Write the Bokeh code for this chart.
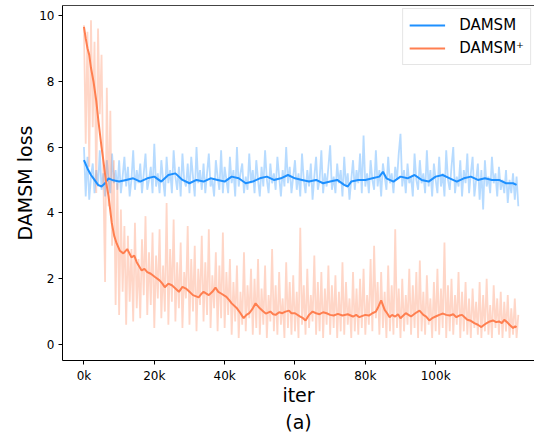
from bokeh.plotting import figure
from bokeh.models import (FixedTicker, LinearAxis, Legend, LegendItem, Title)
from bokeh.embed import file_html
from bokeh.resources import INLINE

# ---------------- data (iterations in thousands) ----------------
# raw losses are logged every 0.5k iterations
damsm_raw_y = [
    6.0, 4.5, 5.7, 4.4, 5.1, 5.5, 4.6, 5.3, 4.8, 5.9, 4.7, 5.2, 4.5, 5.6, 5.0, 4.6, 5.8, 4.9, 5.3, 4.7,
    5.6, 4.6, 5.1, 5.7, 4.8, 5.4, 4.5, 5.0, 5.9, 4.7, 5.3, 4.9, 5.5, 4.6, 5.2, 5.8, 4.7, 5.0, 5.4, 4.6,
    6.1, 4.8, 5.2, 4.6, 5.6, 5.0, 4.5, 5.7, 4.9, 5.3, 4.6, 5.9, 5.1, 4.7, 5.4, 4.5, 5.8, 5.0, 4.8, 5.5,
    4.6, 5.7, 5.1, 4.5, 6.0, 4.9, 5.3, 4.7, 5.5, 4.6, 5.2, 5.8, 4.8, 5.0, 4.5, 5.6, 5.1, 4.7, 5.9, 4.6,
    5.4, 5.0, 4.6, 5.7, 4.9, 5.3, 4.5, 6.0, 4.8, 5.2, 5.5, 4.6, 5.1, 4.7, 5.8, 4.9, 5.3, 4.6, 5.6, 5.0,
    4.5, 5.4, 4.8, 5.9, 5.0, 4.6, 5.5, 4.9, 5.2, 4.7, 5.7, 5.1, 4.5, 5.3, 4.8, 6.0, 4.9, 5.4, 4.6, 5.1,
    5.6, 4.7, 5.2, 4.5, 5.8, 5.0, 4.6, 5.3, 4.8, 5.5, 4.4, 5.1, 5.7, 4.7, 5.0, 5.9, 4.6, 5.2, 4.8, 5.4,
    6.05, 4.7, 5.1, 4.6, 5.5, 4.9, 5.3, 4.5, 5.7, 4.8, 5.2, 4.4, 5.0, 5.6, 4.7, 5.3, 4.9, 5.8, 4.6, 6.35,
    4.8, 5.2, 4.6, 5.6, 5.0, 4.7, 5.9, 4.8, 5.3, 4.5, 5.5, 5.1, 4.7, 5.7, 4.9, 5.2, 4.6, 5.4, 5.0, 5.8,
    6.4, 4.8, 5.3, 4.6, 5.5, 4.9, 5.1, 4.5, 5.8, 5.0, 4.7, 5.6, 4.9, 5.2, 4.6, 5.9, 4.8, 5.3, 4.5, 5.5,
    5.0, 4.6, 5.7, 4.8, 5.2, 4.5, 5.9, 5.0, 4.7, 5.4, 6.0, 4.6, 5.1, 4.8, 5.6, 4.5, 5.3, 4.9, 5.8, 4.6,
    5.2, 5.7, 4.5, 5.0, 5.5, 4.4, 5.3, 4.1, 5.6, 4.8, 5.1, 4.6, 5.7, 4.9, 5.2, 4.5, 5.4, 4.7, 5.0, 4.6,
    5.3, 4.3, 5.0, 4.6, 5.2, 4.4, 5.1, 4.2,
]
plus_raw_y = [
    9.7, 6.1, 9.5, 5.4, 9.85, 6.6, 9.2, 4.6, 9.6, 7.0, 8.8, 5.2, 1.9, 7.8, 4.2, 7.1, 3.0, 5.6, 1.2, 4.9,
    0.9, 4.1, 1.6, 3.6, 0.6, 3.3, 1.3, 2.9, 0.7, 3.7, 1.1, 2.6, 0.8, 3.2, 1.5, 3.9, 0.9, 2.8, 1.2, 3.4,
    0.5, 2.7, 1.4, 3.5, 0.8, 2.4, 1.0, 4.3, 0.6, 2.9, 1.3, 3.8, 0.7, 2.5, 1.1, 3.1, 0.5, 2.2, 1.4, 3.6,
    0.6, 2.6, 1.0, 3.0, 0.4, 2.3, 1.2, 3.3, 0.7, 2.5, 0.9, 3.5, 0.5, 2.1, 1.1, 2.8, 0.4, 2.4, 0.8, 3.4,
    0.5, 2.2, 0.9, 2.6, 0.3, 1.9, 0.7, 2.4, 0.2, 1.6, 0.6, 2.8, 0.4, 1.8, 0.8, 2.3, 0.3, 2.0, 0.5, 2.6,
    0.3, 1.7, 0.6, 2.4, 0.2, 1.5, 0.7, 2.9, 0.4, 1.8, 0.3, 2.2, 0.6, 1.4, 0.2, 2.5, 0.5, 1.9, 0.3, 2.1,
    0.4, 1.6, 0.2, 3.55, 0.6, 1.8, 0.3, 2.3, 0.5, 1.5, 0.7, 2.7, 0.3, 1.9, 0.4, 2.2, 0.2, 1.7, 0.6, 2.4,
    0.3, 1.8, 0.5, 2.1, 0.2, 1.6, 0.4, 2.5, 0.3, 1.9, 0.6, 1.4, 0.2, 2.2, 0.4, 1.7, 0.3, 2.0, 0.5, 2.3,
    0.3, 1.5, 0.6, 2.6, 0.4, 3.0, 0.8, 1.9, 0.3, 2.2, 0.5, 1.6, 0.2, 2.4, 0.4, 1.8, 0.3, 3.5, 0.5, 1.7,
    0.2, 2.0, 0.4, 1.5, 0.6, 2.3, 0.3, 1.8, 0.5, 2.2, 0.2, 2.55, 0.4, 1.6, 0.3, 2.1, 0.6, 1.4, 0.2, 1.9,
    0.4, 2.3, 0.3, 1.7, 0.5, 3.1, 0.2, 1.8, 0.4, 2.0, 0.3, 1.5, 0.6, 2.2, 0.2, 1.6, 0.4, 1.9, 0.3, 1.4,
    0.2, 1.7, 0.5, 1.3, 0.3, 1.9, 0.2, 1.5, 0.4, 2.0, 0.3, 1.2, 0.2, 1.8, 0.5, 1.4, 0.3, 1.6, 0.2, 1.3,
    0.4, 1.5, 0.2, 1.1, 0.3, 1.4, 0.2, 0.9,
]
raw_x = [i * 0.5 for i in range(len(damsm_raw_y))]

damsm_smooth_x = [0, 1, 2, 3, 4, 5, 6, 7, 8, 10, 12, 14, 16, 18, 20, 22, 24, 26,
                  28, 30, 32, 34, 36, 38, 40, 42, 44, 46, 48, 50, 52, 54, 56, 58,
                  60, 62, 64, 66, 68, 70, 72, 74, 75, 76, 78, 80, 82, 84, 85, 86,
                  88, 90, 92, 94, 96, 98, 100, 102, 104, 106, 108, 110, 112, 114,
                  116, 118, 120, 122, 123]
damsm_smooth_y = [5.6, 5.35, 5.15, 5.0, 4.85, 4.8, 4.9, 5.05, 5.0, 4.95, 5.0, 5.05,
                  4.95, 5.05, 5.1, 4.95, 5.15, 5.2, 5.0, 4.9, 5.0, 4.95, 5.05, 5.0,
                  4.95, 5.1, 5.05, 4.9, 4.95, 5.05, 5.1, 5.0, 5.05, 5.15, 5.05, 5.0,
                  4.95, 5.0, 4.9, 4.95, 5.0, 4.85, 4.8, 4.95, 5.0, 5.0, 5.05, 5.1,
                  5.25, 5.05, 4.95, 5.1, 5.05, 5.15, 5.0, 4.95, 5.1, 5.15, 5.05,
                  4.95, 5.05, 5.1, 5.0, 5.05, 5.0, 5.0, 4.9, 4.9, 4.85]

plus_smooth_x = [0, 0.5, 1, 1.5, 2, 2.7, 3.5, 4.1, 5, 5.5, 6.2, 7, 7.9, 8.6, 9.3,
                 10.2, 11.2, 12.3, 13.5, 14.3, 15, 16.4, 17.2, 18, 19, 20.2, 21.5,
                 22.3, 23, 24, 25, 26, 27, 28, 29, 30, 31, 32.6, 33.5, 34, 35.5,
                 36.5, 37.4, 38.2, 39, 40.5, 41.3, 42, 43.5, 44.5, 45.4, 46.2, 47,
                 48, 48.8, 50, 51, 51.7, 53, 53.8, 54.5, 55.5, 56.4, 57.3, 58.3, 59,
                 60, 61.5, 62.3, 63, 64, 65, 66, 67, 68, 69, 70, 71, 72.2, 73.5, 75,
                 76.5, 77.4, 78.3, 79.2, 80, 81, 82, 83, 83.5, 84.5, 85.5, 86.2,
                 86.9, 87.6, 88.5, 89.3, 90, 90.8, 91.5, 92.3, 93, 94.2, 95.4, 96.5,
                 97.3, 98.2, 99, 100, 101, 102.1, 103, 104, 105, 105.9, 106.7, 107.5,
                 108.3, 109, 110, 111, 112, 113, 113.8, 114.5, 115.4, 116.3, 117.2,
                 118, 118.8, 119.5, 120.3, 121, 122, 122.6, 123]
plus_smooth_y = [9.65, 9.3, 9.0, 8.8, 8.4, 8.0, 7.4, 6.8, 6.0, 5.6, 5.0, 4.5, 3.7,
                 3.3, 3.07, 2.85, 2.77, 2.9, 2.65, 2.7, 2.5, 2.25, 2.3, 2.2, 2.15,
                 2.05, 1.95, 1.85, 1.74, 1.85, 1.8, 1.7, 1.6, 1.75, 1.7, 1.6, 1.5,
                 1.43, 1.55, 1.6, 1.5, 1.6, 1.73, 1.6, 1.55, 1.45, 1.35, 1.25, 1.1,
                 0.95, 0.8, 0.9, 0.95, 1.1, 1.25, 1.1, 1.0, 0.94, 1.0, 0.92, 0.9,
                 0.98, 0.95, 1.0, 1.03, 0.95, 0.95, 0.85, 0.8, 0.73, 0.9, 1.0, 0.95,
                 0.92, 0.98, 0.95, 0.9, 0.88, 0.93, 0.88, 0.92, 0.85, 0.9, 0.83,
                 0.87, 0.9, 0.88, 0.95, 1.0, 1.1, 1.34, 1.05, 0.95, 0.83, 0.9, 0.85,
                 0.92, 0.8, 0.88, 0.95, 0.9, 0.85, 0.95, 1.03, 0.9, 0.85, 0.73, 0.8,
                 0.85, 0.9, 0.94, 0.9, 0.88, 0.92, 0.83, 0.88, 0.9, 0.82, 0.75, 0.72,
                 0.65, 0.6, 0.53, 0.6, 0.65, 0.7, 0.73, 0.68, 0.7, 0.65, 0.75, 0.68,
                 0.6, 0.5, 0.55, 0.52]

x_ticks = [0, 20, 40, 60, 80, 100]
x_tick_labels = ["0k", "20k", "40k", "60k", "80k", "100k"]
y_ticks = [0, 2, 4, 6, 8, 10]

BLUE = "#1e90ff"
CORAL = "#ff7f50"
FONT = "DejaVu Sans"

p = figure(width=534, height=436, x_range=(-6.1, 128.1), y_range=(-0.486, 10.30),
           output_backend="svg", toolbar_location=None,
           min_border_left=62, min_border_right=0, min_border_top=5,
           min_border_bottom=76)
p.outline_line_color = None
p.xgrid.visible = False
p.ygrid.visible = False
p.background_fill_color = "white"
p.border_fill_color = "white"

r1 = p.line(raw_x, damsm_raw_y, line_color=BLUE, line_alpha=0.32, line_width=1.8)
r3 = p.line(raw_x, plus_raw_y, line_color=CORAL, line_alpha=0.32, line_width=1.8)
r2 = p.line(damsm_smooth_x, damsm_smooth_y, line_color=BLUE, line_width=2)
r4 = p.line(plus_smooth_x, plus_smooth_y, line_color=CORAL, line_width=2)

for ax in (p.xaxis[0], p.yaxis[0]):
    ax.axis_line_color = "black"
    ax.axis_line_width = 1
    ax.major_tick_line_color = "black"
    ax.major_tick_out = 4
    ax.major_tick_in = 0
    ax.minor_tick_line_color = None
    ax.major_label_text_font = FONT
    ax.major_label_text_font_size = "12px"
    ax.major_label_text_color = "black"
    ax.major_label_standoff = 4
    ax.axis_label_text_font = FONT
    ax.axis_label_text_font_size = "19px"
    ax.axis_label_text_font_style = "normal"
    ax.axis_label_text_color = "black"
    ax.axis_label_standoff = 0

p.xaxis[0].ticker = FixedTicker(ticks=x_ticks)
p.xaxis[0].major_label_overrides = {t: l for t, l in zip(x_ticks, x_tick_labels)}
p.xaxis[0].axis_label = "iter"
p.xaxis[0].axis_label_standoff = -2
p.yaxis[0].ticker = FixedTicker(ticks=y_ticks)
p.yaxis[0].axis_label = "DAMSM loss"

top = LinearAxis(ticker=FixedTicker(ticks=[]), major_tick_out=0, major_tick_in=0,
                 minor_tick_out=0, minor_tick_in=0, major_label_text_font_size="0px",
                 major_label_standoff=0, axis_line_color="#444444", axis_line_width=1)
p.add_layout(top, "above")

p.add_layout(Title(text="(a)", align="center", text_font=FONT,
                   text_font_size="19px", text_font_style="normal",
                   text_color="black", standoff=0), "below")

legend = Legend(items=[LegendItem(label="DAMSM", renderers=[r2]),
                       LegendItem(label="DAMSM\u207a", renderers=[r4])],
                location="top_right", margin=3, padding=6, spacing=3,
                glyph_width=36, glyph_height=20, label_height=20,
                label_standoff=14, label_text_font=FONT,
                label_text_font_size="15px", label_text_color="black",
                border_line_color="#cccccc", border_line_width=1,
                background_fill_alpha=0.8)
p.add_layout(legend)

open("out.html", "w").write(file_html(p, INLINE))
